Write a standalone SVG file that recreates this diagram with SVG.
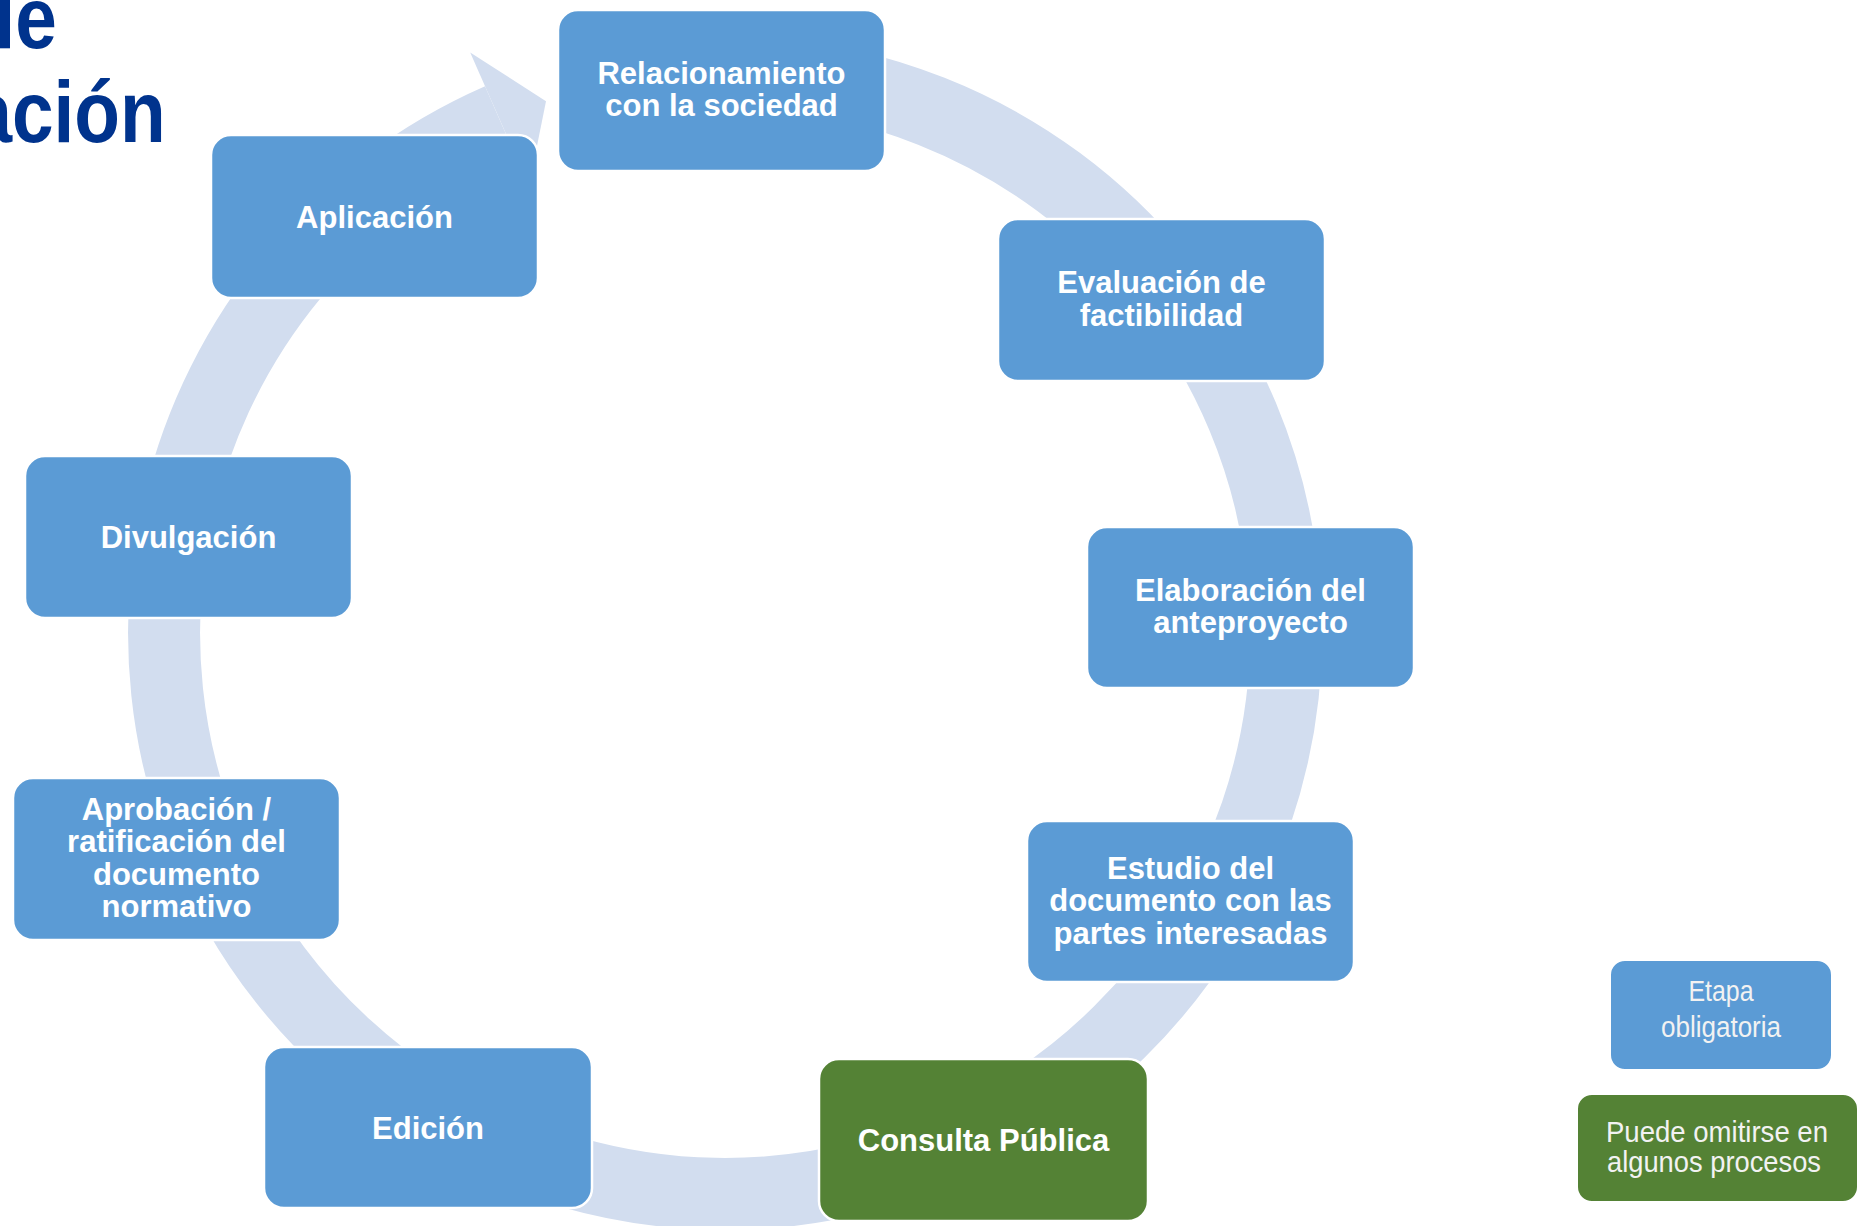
<svg xmlns="http://www.w3.org/2000/svg" width="1859" height="1226" viewBox="0 0 1859 1226">
<style>
.box{fill:#5B9BD5;stroke:#FFFFFF;stroke-width:2.5}
.green{fill:#548235;stroke:#FFFFFF;stroke-width:2.5}
.lbl{font-family:"Liberation Sans",Arial,sans-serif;font-weight:bold;font-size:31px;fill:#FFFFFF;text-anchor:middle}
.leg{font-family:"Liberation Sans Narrow","Liberation Sans",Arial,sans-serif;fill:#F2F2F2;text-anchor:middle}
.title{font-family:"Liberation Sans",Arial,sans-serif;font-weight:bold;font-size:88px;fill:#00338D;text-anchor:end}
</style>
<rect width="1859" height="1226" fill="#FFFFFF"/>
<g id="title" transform="scale(0.85,1)">
<text class="title" x="67" y="48">le</text>
<text class="title" x="195" y="142">ación</text>
</g>
<g id="connectors">
<path d="M 676.1 74.1 A 561 561 0 1 1 499.5 119.3" fill="none" stroke="#D2DDEF" stroke-width="72"/>
<polygon points="470.2,52.4 546,101.3 528.9,186.1" fill="#D2DDEF"/>
</g>
<g id="n1">
<rect class="box" x="558" y="10" width="327" height="161" rx="20"/>
<text class="lbl" x="721.5" y="83.5">Relacionamiento</text>
<text class="lbl" x="721.5" y="116">con la sociedad</text>
</g>
<g id="n2">
<rect class="box" x="998" y="219" width="327" height="162" rx="20"/>
<text class="lbl" x="1161.5" y="293">Evaluación de</text>
<text class="lbl" x="1161.5" y="325.5">factibilidad</text>
</g>
<g id="n3">
<rect class="box" x="1087" y="527" width="327" height="161" rx="20"/>
<text class="lbl" x="1250.5" y="600.5">Elaboración del</text>
<text class="lbl" x="1250.5" y="633">anteproyecto</text>
</g>
<g id="n4">
<rect class="box" x="1027" y="821" width="327" height="161" rx="20"/>
<text class="lbl" x="1190.5" y="878.5">Estudio del</text>
<text class="lbl" x="1190.5" y="911">documento con las</text>
<text class="lbl" x="1190.5" y="943.5">partes interesadas</text>
</g>
<g id="n5">
<rect class="green" x="819" y="1059" width="329" height="162" rx="20"/>
<text class="lbl" x="983.5" y="1151">Consulta Pública</text>
</g>
<g id="n6">
<rect class="box" x="264" y="1047" width="328" height="161" rx="20"/>
<text class="lbl" x="428" y="1138.5">Edición</text>
</g>
<g id="n7">
<rect class="box" x="13" y="778" width="327" height="162" rx="20"/>
<text class="lbl" x="176.5" y="819.5">Aprobación /</text>
<text class="lbl" x="176.5" y="852">ratificación del</text>
<text class="lbl" x="176.5" y="884.5">documento</text>
<text class="lbl" x="176.5" y="917">normativo</text>
</g>
<g id="n8">
<rect class="box" x="25" y="456" width="327" height="162" rx="20"/>
<text class="lbl" x="188.5" y="548">Divulgación</text>
</g>
<g id="n9">
<rect class="box" x="211" y="135" width="327" height="163" rx="20"/>
<text class="lbl" x="374.5" y="227.5">Aplicación</text>
</g>
<g id="legend1">
<rect x="1610" y="960" width="222" height="110" rx="15" fill="#5B9BD5" stroke="#FFFFFF" stroke-width="2"/>
<text class="leg" x="1721" y="1001" font-size="30" textLength="65" lengthAdjust="spacingAndGlyphs">Etapa</text>
<text class="leg" x="1721" y="1037" font-size="30" textLength="120" lengthAdjust="spacingAndGlyphs">obligatoria</text>
</g>
<g id="legend2">
<rect x="1577" y="1094" width="281" height="108" rx="15" fill="#548235" stroke="#FFFFFF" stroke-width="2"/>
<text class="leg" x="1717" y="1142" font-size="29" textLength="222" lengthAdjust="spacingAndGlyphs">Puede omitirse en</text>
<text class="leg" x="1714" y="1172" font-size="29" textLength="214" lengthAdjust="spacingAndGlyphs">algunos procesos</text>
</g>
</svg>
